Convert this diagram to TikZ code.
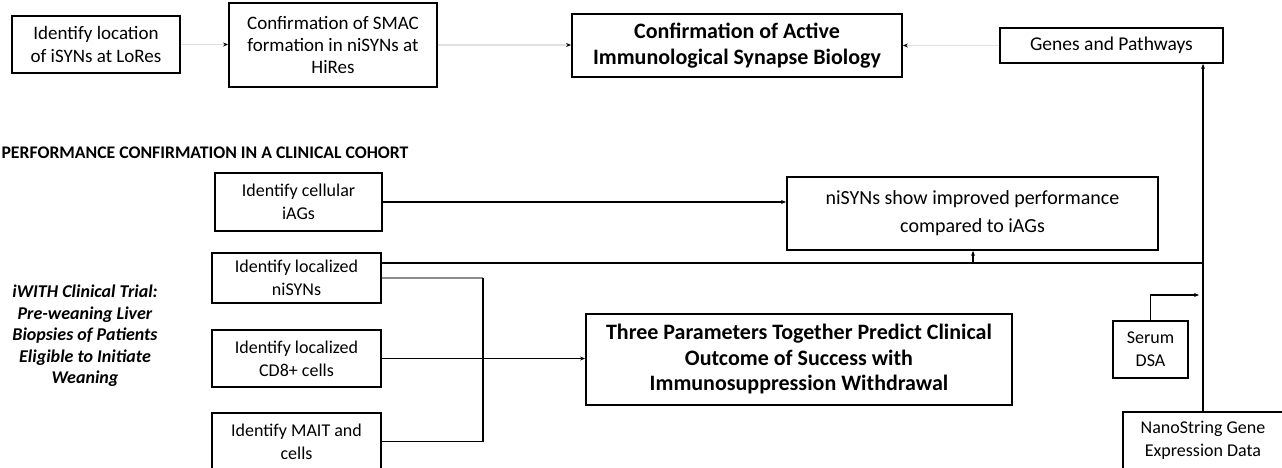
\documentclass[tikz,border=0pt]{standalone}
\usepackage{fontspec}
\setmainfont{Carlito}
\usetikzlibrary{arrows.meta,calc}

\begin{document}
\begin{tikzpicture}[x=1pt,y=-1pt,
    box/.style={draw,line width=1.8pt,align=center,inner sep=0pt,
                font=\fontsize{18}{23}\selectfont},
    widebox/.style={box,font=\fontsize{19.5}{27}\selectfont},
    bigbox/.style={box,font=\fontsize{22}{25.5}\selectfont\bfseries},
    link/.style={line width=1.8pt},
    faint/.style={line width=1.2pt,black!12},
    tip/.style={-{Stealth[length=5pt,width=4pt,black]}}]
    \useasboundingbox (0,0) rectangle (1282,468);

    \node[box,font=\fontsize{19}{23}\selectfont,minimum width=168pt,minimum height=57pt] (locA) at (96,44.5)
        {Identify location\\of iSYNs at LoRes};
    \node[box,font=\fontsize{19}{22}\selectfont,minimum width=208pt,minimum height=84pt] (smac) at (333,45)
        {Confirmation of SMAC\\formation in niSYNs at\\HiRes};
    \node[bigbox,minimum width=330pt,minimum height=63pt] (active) at (737,45.5)
        {Confirmation of Active\\Immunological Synapse Biology};
    \node[widebox,minimum width=223pt,minimum height=35pt] (genes) at (1111.5,45.5)
        {Genes and Pathways};

    \node[anchor=west,font=\fontsize{17.7}{20}\selectfont\bfseries] (cohort) at (-2,153)
        {PERFORMANCE CONFIRMATION IN A CLINICAL COHORT};

    \node[box,minimum width=167pt,minimum height=58pt] (iags) at (298.5,202)
        {Identify cellular\\iAGs};
    \node[widebox,font=\fontsize{20}{28}\selectfont,minimum width=371pt,minimum height=73pt] (perf) at (972.5,213.5)
        {niSYNs show improved performance\\compared to iAGs};
    \node[box,minimum width=169pt,minimum height=50pt] (nisyn) at (296.5,278)
        {Identify localized\\niSYNs};
    \node[box,minimum width=169pt,minimum height=57pt] (cdeight) at (296.5,358.5)
        {Identify localized\\CD8+ cells};
    \node[box,minimum width=169pt,minimum height=57pt] (mait) at (296.5,441.5)
        {Identify MAIT and\\cells};
    \node[bigbox,minimum width=426pt,minimum height=91pt] (three) at (799,359.5)
        {Three Parameters Together Predict Clinical\\Outcome of Success with\\Immunosuppression Withdrawal};
    \node[box,minimum width=75pt,minimum height=57pt] (dsa) at (1150.5,349.5)
        {Serum\\DSA};
    \node[box,minimum width=160pt,minimum height=57pt] (nano) at (1203,440.5)
        {NanoString Gene\\Expression Data};

    \node[align=center,font=\fontsize{18}{21.5}\selectfont\bfseries\itshape] (trial) at (85,336)
        {iWITH Clinical Trial:\\Pre-weaning Liver\\Biopsies of Patients\\Eligible to Initiate\\Weaning};

    \coordinate (junc) at (1203,263);
    \coordinate (branch) at (973,263);
    \coordinate (bus) at (483,358);
    \coordinate (dsaend) at (1199,295);

    \draw[faint,tip] (locA.east) -- (locA.east -| smac.west);
    \draw[faint,tip] (smac.east) -- (smac.east -| active.west);
    \draw[faint,tip] (genes.west) -- (genes.west -| active.east);

    \draw[link,tip] (iags.east) -- (iags.east -| perf.west);
    \draw[link] ([yshift=15]nisyn.east) -- (junc);
    \draw[link,tip] (branch) -- (branch |- perf.south);
    \draw[link,tip] (nano.north) -- (nano.north |- genes.south);
    \draw[link,tip] (dsa.north) |- (dsaend);

    \draw[link,black!45] (nisyn.east) -- (nisyn.east -| bus);
    \draw[link] (nisyn.east -| bus) -- (bus |- mait.east) -- (mait.east);
    \draw[link,tip] (cdeight.east) -- (cdeight.east -| three.west);
\end{tikzpicture}
\end{document}
